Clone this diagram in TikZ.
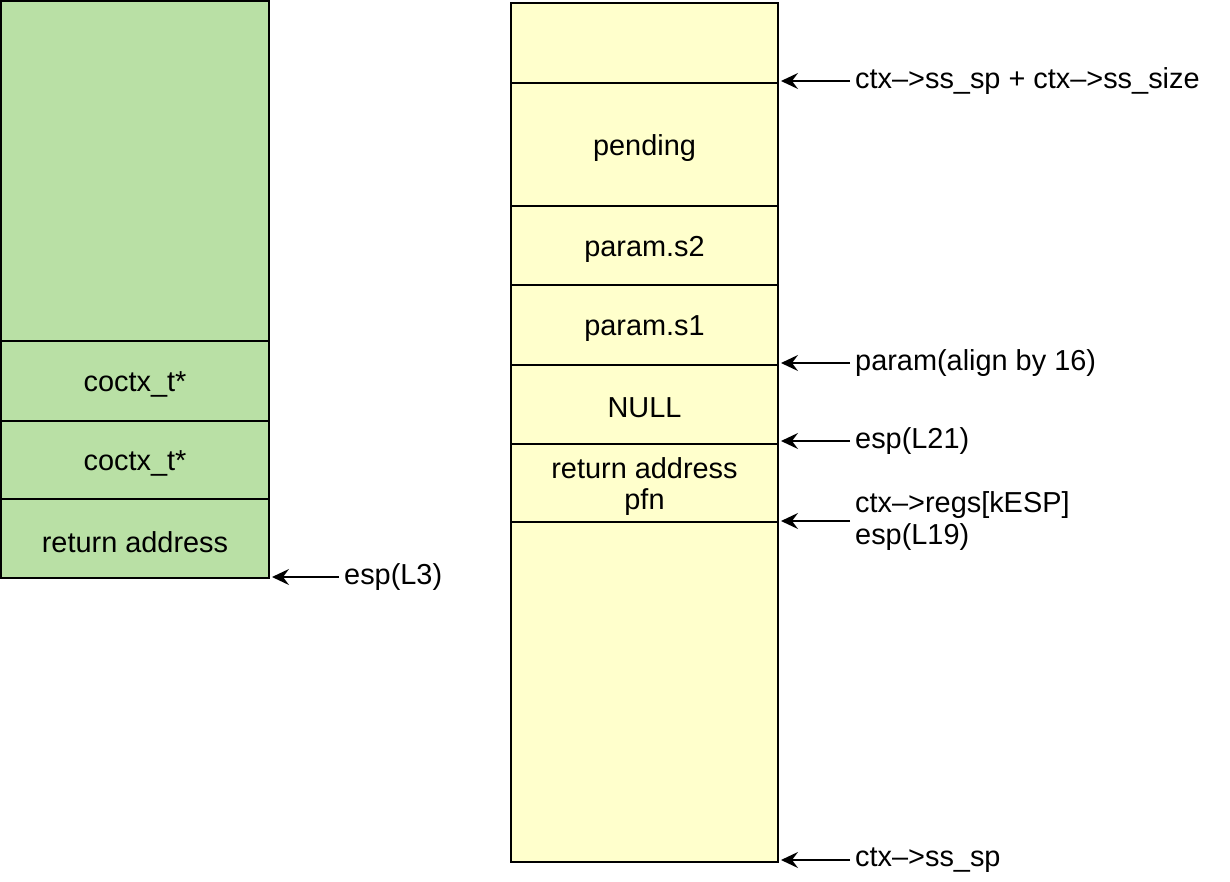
\documentclass[tikz,border=0pt]{standalone}
\usepackage{fontspec}
\setmainfont{Liberation Sans}
\usetikzlibrary{arrows.meta}
\definecolor{cgreen}{HTML}{B9E0A5}
\definecolor{cyellow}{HTML}{FFFFCC}
\begin{document}
\begin{tikzpicture}[x=1bp,y=-1bp,
  cell/.style={draw=black,line width=1.6bp,anchor=north west,inner sep=0pt,outer sep=0pt,
    minimum width=#1},
  txt/.style={label={[yshift=-3.5bp,align=center,inner sep=0pt,font=\fontsize{29}{32}\selectfont]center:#1}},
  gcell/.style={cell=268bp,fill=cgreen},
  ycell/.style={cell=267bp,fill=cyellow},
  lbl/.style={anchor=west,inner sep=0pt,align=left,font=\fontsize{29}{32}\selectfont},
  arr/.style={-{Stealth[length=17bp,width=16bp,inset=6bp]},line width=1.8bp,shorten <=5bp,shorten >=3bp}]
\useasboundingbox (0,0) rectangle (1230,882);
% left stack
\node[gcell,minimum height=340bp] (g0) at (1,1) {};
\node[gcell,minimum height=80bp,txt={coctx\_t*}] (g1) at (1,341) {};
\node[gcell,minimum height=78bp,txt={coctx\_t*}] (g2) at (1,421) {};
\node[gcell,minimum height=79bp,txt={return address}] (g3) at (1,499) {};
% right stack
\node[ycell,minimum height=80bp] (y0) at (511,3) {};
\node[ycell,minimum height=123bp,txt={pending}] (y1) at (511,83) {};
\node[ycell,minimum height=79bp,txt={param.s2}] (y2) at (511,206) {};
\node[ycell,minimum height=80bp,txt={param.s1}] (y3) at (511,285) {};
\node[ycell,minimum height=79bp,txt={NULL}] (y4) at (511,365) {};
\node[ycell,minimum height=78bp,txt={return address\\pfn}] (y5) at (511,444) {};
\node[ycell,minimum height=340bp] (y6) at (511,522) {};
% labels
\node[lbl] (l0) at (855,81) {ctx–>ss\_sp + ctx–>ss\_size};
\node[lbl] (l1) at (855,363) {param(align by 16)};
\node[lbl] (l2) at (855,441) {esp(L21)};
\node[lbl] (l3) at (855,521) {ctx–>regs[kESP]\\esp(L19)};
\node[lbl] (l4) at (855,860) {ctx–>ss\_sp};
\node[lbl] (l5) at (344,577) {esp(L3)};
% arrows
\draw[arr] (l0.west) -- (l0.west -| y1.north east);
\draw[arr] (l1.west) -- (l1.west -| y4.north east);
\draw[arr] (l2.west) -- (l2.west -| y5.north east);
\draw[arr] (l3.west) -- (l3.west -| y6.north east);
\draw[arr] (l4.west) -- (l4.west -| y6.south east);
\draw[arr] (l5.west) -- (l5.west -| g3.south east);
\end{tikzpicture}
\end{document}
